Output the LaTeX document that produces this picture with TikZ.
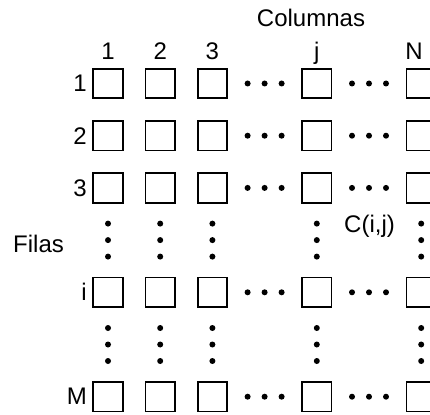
\documentclass[tikz,border=0pt]{standalone}
\usepackage{fontspec}
\setmainfont{Liberation Sans}
\begin{document}
\begin{tikzpicture}[x=1pt,y=-1pt,
  cell/.style={draw, line width=1.8pt, minimum width=29.5pt, minimum height=29.5pt, inner sep=0pt},
  lbl/.style={font=\fontsize{24}{28}\selectfont, inner sep=0pt},
  dotfill/.style={fill=black}]
\useasboundingbox (0,0) rectangle (430,414);
\clip (0,0) rectangle (430,414);
% cells and row labels
\foreach \r/\y in {1/83.5,2/135.7,3/187.9,i/292.3,M/396.7} {
  \foreach \c/\x in {1/108,2/160.2,3/212.4,j/316.8,N/421.2}
    \node[cell] (s-\r-\c) at (\x,\y) {};
  \node[lbl, anchor=east] (r-\r) at (87,\y) {\r};
  \foreach \dx in {-17,0,17} {
    \fill[dotfill] (264.6+\dx,\y) circle (3);
    \fill[dotfill] (369.0+\dx,\y) circle (3);
  }
}
% vertical dots
\foreach \x in {108,160.2,212.4,316.8,421.2}
  \foreach \yc in {240.1,344.5}
    \foreach \dy in {-16.5,0,16.5}
      \fill[dotfill] (\x,\yc+\dy) circle (3);
% column labels
\foreach \c/\x in {1/108,2/160.2,3/212.4,j/316.8,N/414}
  \node[lbl, anchor=base] (c-\c) at (\x,60) {\c};
\node[lbl, anchor=base] (cols) at (311,27) {Columnas};
\node[lbl, anchor=base west] (rows) at (13,252) {Filas};
\node[lbl, anchor=base] (cij) at (369.5,232) {C(i,j)};
\end{tikzpicture}
\end{document}
